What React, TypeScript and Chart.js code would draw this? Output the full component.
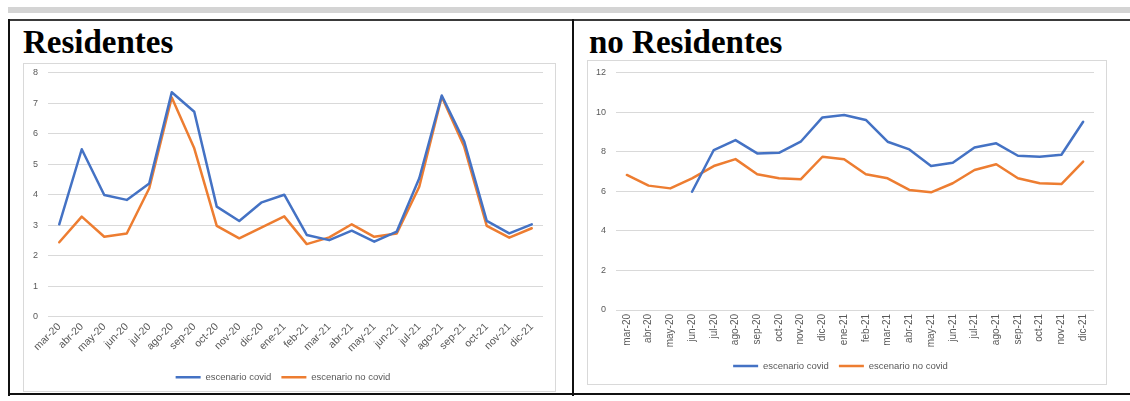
import React, { useEffect, useRef } from 'react';
import { Chart, registerables } from 'chart.js';
Chart.register(...registerables);

const months = ['mar-20','abr-20','may-20','jun-20','jul-20','ago-20','sep-20','oct-20','nov-20','dic-20','ene-21','feb-21','mar-21','abr-21','may-21','jun-21','jul-21','ago-21','sep-21','oct-21','nov-21','dic-21'];
const seriesNames = ['escenario covid', 'escenario no covid'];

const resCovid = [3.03, 5.49, 3.99, 3.83, 4.37, 7.36, 6.72, 3.61, 3.14, 3.75, 4.0, 2.68, 2.51, 2.82, 2.46, 2.79, 4.54, 7.25, 5.74, 3.14, 2.73, 3.03];
const resNoCovid = [2.44, 3.28, 2.62, 2.73, 4.21, 7.19, 5.52, 2.98, 2.57, 2.93, 3.29, 2.38, 2.6, 3.03, 2.62, 2.73, 4.26, 7.21, 5.57, 2.98, 2.59, 2.9];
const resYMax = 8;
const resYStep = 1;

const noResCovid = [null, null, null, 5.98, 8.09, 8.59, 7.92, 7.95, 8.51, 9.74, 9.86, 9.61, 8.51, 8.12, 7.28, 7.45, 8.22, 8.43, 7.8, 7.75, 7.85, 9.52];
const noResNoCovid = [6.83, 6.29, 6.15, 6.66, 7.28, 7.63, 6.86, 6.66, 6.61, 7.75, 7.62, 6.86, 6.66, 6.07, 5.95, 6.41, 7.08, 7.37, 6.66, 6.41, 6.37, 7.5];
const noResYMax = 12;
const noResYStep = 2;

const titles = ['Residentes', 'no Residentes'];

const BLUE = '#4472C4';
const ORANGE = '#ED7D31';
const GRID = '#d9d9d9';
const TXT = '#595959';
const FONT = 'Liberation Sans, Arial, sans-serif';
const LEGEND_FS = 9.5;

type Props = {
  left: number; top: number; width: number; height: number;
  covid: (number | null)[]; noCovid: (number | null)[];
  yMax: number; yStep: number; rotation: number; xFs: number;
  chartLeft: number; padRight: number; padTop: number; xAxisHeight: number; padBottom: number;
};

function LineChart(p: Props) {
  const ref = useRef<HTMLCanvasElement | null>(null);
  useEffect(() => {
    if (!ref.current) return;
    const chart = new Chart(ref.current, {
      type: 'line',
      data: {
        labels: months,
        datasets: [
          { label: seriesNames[0], data: p.covid, borderColor: BLUE, backgroundColor: BLUE, borderWidth: 2.5, pointRadius: 0, tension: 0, borderJoinStyle: 'round', borderCapStyle: 'round' },
          { label: seriesNames[1], data: p.noCovid, borderColor: ORANGE, backgroundColor: ORANGE, borderWidth: 2.5, pointRadius: 0, tension: 0, borderJoinStyle: 'round', borderCapStyle: 'round' },
        ],
      },
      options: {
        responsive: false,
        animation: false,
        devicePixelRatio: 1,
        layout: { padding: { left: 0, right: p.padRight, top: p.padTop, bottom: p.padBottom } },
        plugins: {
          legend: {
            position: 'bottom',
            labels: {
              usePointStyle: true,
              pointStyle: 'line',
              pointStyleWidth: 25,
              padding: 10,
              color: TXT,
              font: { family: FONT, size: LEGEND_FS },
            },
          },
          tooltip: { enabled: false },
        },
        scales: {
          x: {
            offset: true,
            grid: { display: false, drawTicks: false },
            border: { display: false },
            ticks: { autoSkip: false, minRotation: p.rotation, maxRotation: p.rotation, padding: 4, color: TXT, font: { family: FONT, size: p.xFs } },
            afterFit: (s: any) => { s.height = p.xAxisHeight; },
          },
          y: {
            min: 0,
            max: p.yMax,
            ticks: { stepSize: p.yStep, padding: 10, color: TXT, font: { family: FONT, size: 9 } },
            grid: { color: GRID, lineWidth: 1, drawTicks: false },
            border: { display: false },
            afterFit: (s: any) => { s.width = p.chartLeft; s.paddingTop = 0; s.paddingBottom = 0; },
          },
        },
      },
    } as any);
    return () => chart.destroy();
  }, []);
  return (
    <div style={{ position: 'absolute', left: p.left, top: p.top, width: p.width, height: p.height }}>
      <canvas ref={ref} width={p.width} height={p.height} style={{ position: 'absolute', left: 0, top: 0, width: p.width, height: p.height }} />
      <div style={{ position: 'absolute', left: 0, top: 0, width: p.width, height: p.height, boxSizing: 'border-box', border: '1px solid ' + GRID, pointerEvents: 'none' }} />
    </div>
  );
}

export default function App() {
  const titleStyle: React.CSSProperties = {
    position: 'absolute', top: 26, fontFamily: '"Liberation Serif", "Times New Roman", serif', fontWeight: 'bold', fontSize: 33, lineHeight: '33px', color: '#000', whiteSpace: 'nowrap',
  };
  return (
    <div style={{ position: 'absolute', left: 0, top: 0, width: 1130, height: 401, background: '#fff', overflow: 'hidden' }}>
      <div style={{ position: 'absolute', left: 8, top: 7, width: 1122, height: 6, background: '#d4d4d4' }} />
      <div style={{ position: 'absolute', left: 8, top: 19, width: 1122, height: 2, background: '#3a3a3a' }} />
      <div style={{ position: 'absolute', left: 8, top: 19, width: 2, height: 377, background: '#111' }} />
      <div style={{ position: 'absolute', left: 572, top: 19, width: 2, height: 377, background: '#111' }} />
      <div style={{ position: 'absolute', left: 8, top: 393, width: 1122, height: 2, background: '#111' }} />
      <div style={{ ...titleStyle, left: 23 }}>{titles[0]}</div>
      <div style={{ ...titleStyle, left: 589 }}>{titles[1]}</div>
      <LineChart left={23} top={63} width={533} height={329}
        covid={resCovid} noCovid={resNoCovid} yMax={resYMax} yStep={resYStep} rotation={45} xFs={10.5}
        chartLeft={25} padRight={13} padTop={9.7} xAxisHeight={45.8} padBottom={0} />
      <LineChart left={587} top={60} width={520} height={325}
        covid={noResCovid} noCovid={noResNoCovid} yMax={noResYMax} yStep={noResYStep} rotation={90} xFs={10}
        chartLeft={29} padRight={13} padTop={12.7} xAxisHeight={41.3} padBottom={4.2} />
    </div>
  );
}
